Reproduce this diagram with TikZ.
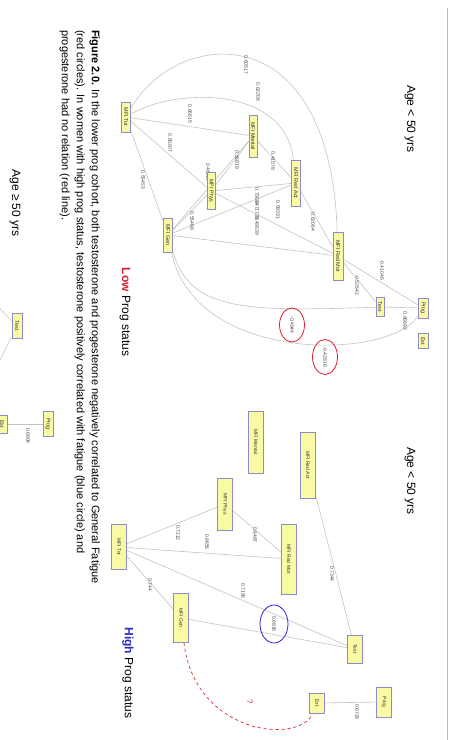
\documentclass[tikz,border=0pt]{standalone}
\usepackage{fontspec}
\setmainfont{Liberation Sans}
\usetikzlibrary{shapes.geometric,backgrounds}

\definecolor{varfill}{RGB}{250,250,165}
\definecolor{varline}{RGB}{140,140,205}
\definecolor{relgray}{RGB}{195,195,195}
\definecolor{labgray}{RGB}{70,70,70}
\definecolor{lowred}{RGB}{220,30,45}
\definecolor{highblue}{RGB}{40,40,205}
\definecolor{framegray}{RGB}{170,192,192}

\tikzset{
  var/.style={draw=varline, fill=varfill, line width=0.6pt, rotate=-90, inner sep=0.5pt,
    text=black!80, font=\fontsize{5.5}{6}\selectfont},
  uvar/.style={var, minimum height=9pt},
  hvar/.style={var, minimum height=15pt, font=\fontsize{5}{6}\selectfont},
  elab/.style={rotate=-90, inner sep=0pt, text=labgray, font=\fontsize{5}{6}\selectfont},
  rel/.style={draw=relgray, line width=0.6pt},
  circled/.style={elab, ellipse, draw, line width=0.8pt, minimum width=34pt, minimum height=25pt},
  headtxt/.style={rotate=-90, inner sep=0pt, font=\fontsize{12}{14}\selectfont},
}

\begin{document}
\begin{tikzpicture}[x=1pt,y=-1pt]
  \useasboundingbox (0,0) rectangle (450,740);

  % page frame on the right
  \draw[framegray, line width=1pt] (447,8) -- (447,740);

  % caption
  \node[rotate=-90, anchor=north west, inner sep=0pt, align=left,
        font=\fontsize{11}{15}\selectfont] (cap) at (100,30)
    {\textbf{Figure 2.0.} In the lower prog cohort, both testosterone and progesterone negatively correlated to General Fatigue\\
     (red circles). In women with high prog status, testosterone positively correlated with fatigue (blue circle) and\\
     progesterone had no relation (red line).};

  % headings
  \node[headtxt] (ageA) at (410,119) {Age < 50 yrs};
  \node[headtxt] (ageB) at (410,481) {Age < 50 yrs};
  \node[headtxt] (ageC) at (15,203)  {Age ≥ 50 yrs};
  \node[headtxt] (low)  at (125,312) {\textcolor{lowred}{\textbf{Low}} Prog status};
  \node[headtxt] (high) at (128,673) {\textcolor{highblue}{\textbf{High}} Prog status};

  % Low prog, age < 50
  \node[uvar, minimum width=30pt] (lTot) at (126,117) {MFI Tot};
  \node[uvar, minimum width=42pt, minimum height=8pt] (lMen) at (253,136) {MFI Mental};
  \node[uvar, minimum width=37pt, minimum height=8pt] (lPhy) at (211,191) {MFI Phys};
  \node[uvar, minimum width=46pt] (lAct) at (296,183) {MFI Red Act};
  \node[uvar, minimum width=34pt] (lGen) at (168,235) {MFI Gen};
  \node[uvar, minimum width=48pt, minimum height=10pt] (lMot) at (338,256) {MFI Red Mot};
  \node[uvar, minimum width=19pt, minimum height=8pt] (lTest) at (380,307) {Test};
  \node[uvar, minimum width=20pt, minimum height=10pt] (lProg) at (423,308) {Prog};
  \node[uvar, minimum width=15pt, minimum height=10pt] (lEst) at (423,341) {Est};

  % High prog, age < 50
  \node[hvar, minimum width=62pt] (hMen)  at (256,442) {MFI Mental};
  \node[hvar, minimum width=66pt] (hAct)  at (308,465) {MFI Red Act};
  \node[hvar, minimum width=52pt] (hPhy)  at (225,504) {MFI Phys};
  \node[hvar, minimum width=70pt] (hMot)  at (289,559) {MFI Red Mot};
  \node[hvar, minimum width=45pt] (hTot)  at (119,547) {MFI Tot};
  \node[hvar, minimum width=49pt] (hGen)  at (181,618) {MFI Gen};
  \node[hvar, minimum width=28pt] (hTest) at (355,649) {Test};
  \node[hvar, minimum width=20pt] (hEst)  at (317,703) {Est};
  \node[hvar, minimum width=30pt] (hProg) at (384,702) {Prog};

  % age >= 50 (cut off at the page edge)
  \node[uvar, minimum width=25pt, minimum height=10pt] (oTest) at (17,326) {Test};
  \node[uvar, minimum width=25pt, minimum height=10pt] (oProg) at (48,424) {Prog};
  \node[uvar, minimum width=18pt, minimum height=10pt] (oEst)  at (2,424)  {Est};
  \coordinate (oW1) at (-1,308);
  \coordinate (oW2) at (-1,362);

  \begin{scope}[on background layer]
    % low prog edges
    \draw[rel] (lTot) .. controls (175,30) and (330,10) .. (lMot);
    \draw[rel] (lTot) .. controls (175,88) and (285,85) .. (lAct);
    \draw[rel] (lTot) -- (lMen);
    \draw[rel] (lTot) -- (lPhy);
    \draw[rel] (lTot) -- (lGen);
    \draw[rel] (lGen) -- (lPhy);
    \draw[rel] (lGen) -- (lMen);
    \draw[rel] (lMen) -- (lPhy);
    \draw[rel] (lMen) -- (lAct);
    \draw[rel] (lPhy) -- (lAct);
    \draw[rel] (lGen) -- (lAct);
    \draw[rel] (lGen) -- (lMot);
    \draw[rel] (lPhy) -- (lMot);
    \draw[rel] (lAct) -- (lMot);
    \draw[rel] (lMot) -- (lTest);
    \draw[rel] (lMot) -- (lProg);
    \draw[rel] (lTest) -- (lProg);
    \draw[rel] (lGen) .. controls (190,310) and (240,312) .. (lTest);
    \draw[rel] (lGen) .. controls (195,365) and (390,360) .. (lProg);

    \node[elab] (rTotMot) at (246,65)  {0.60517};
    \node[elab] (rTotAct) at (258,92)  {0.62208};
    \node[elab] (rTotMen) at (190,114) {0.66615};
    \node[elab] (rTotPhy) at (170,143) {0.65307};
    \node[elab] (rTotGen) at (143,180) {0.55453};
    \node[elab] (rGenPhy) at (192,221) {0.55468};
    \node[elab] (rGenMen) at (208,172) {0.46119};
    \node[elab] (rMenPhy) at (237,160) {0.56819};
    \node[elab] (rMenAct) at (273,161) {0.41578};
    \node[elab] (rPhyAct) at (257,197) {0.73684};
    \node[elab] (rGenAct) at (257,211) {0.71728};
    \node[elab] (rGenMot) at (257,226) {0.43639};
    \node[elab] (rPhyMot) at (278,210) {0.59331};
    \node[elab] (rActMot) at (313,222) {0.62064};
    \node[elab] (rMotTst) at (357,285) {-0.52642};
    \node[elab] (rMotPrg) at (382,270) {-0.41046};
    \node[elab] (rTstPrg) at (405,321) {0.86692};
    \node[circled, draw=lowred] (rGenTst) at (292,325) {-0.4944};
    \node[circled, draw=lowred, minimum width=35pt] (rGenPrg) at (325,357) {-0.42816};

    % high prog edges
    \draw[rel] (hTot) -- (hPhy);
    \draw[rel] (hTot) -- (hMot);
    \draw[rel] (hPhy) -- (hMot);
    \draw[rel] (hTot) -- (hGen);
    \draw[rel] (hTot) -- (hTest);
    \draw[rel] (hGen) -- (hTest);
    \draw[rel] (hAct) -- (hTest);
    \draw[rel] (hEst) -- (hProg);
    \draw[lowred, dashed, line width=0.7pt] (hGen) .. controls (195,735) and (300,745) .. (hEst);

    \node[elab] (sTotPhy) at (178,533) {0.7212};
    \node[elab] (sTotMot) at (207,542) {0.8656};
    \node[elab] (sPhyMot) at (255,535) {0.6487};
    \node[elab] (sTotGen) at (150,585) {0.744};
    \node[elab] (sTotTst) at (243,591) {0.7195};
    \node[elab] (sActTst) at (332,574) {0.7344};
    \node[elab] (sEstPrg) at (357,712) {0.6729};
    \node[circled, draw=highblue, minimum width=38pt, minimum height=28pt] (sGenTst) at (274,624) {0.6836};
    \node[rotate=-90, text=lowred, font=\fontsize{8}{8}\selectfont] (qm) at (250,702) {?};

    % age >= 50 edges
    \draw[rel] (oTest) -- (oW1);
    \draw[rel] (oTest) -- (oW2);
    \draw[rel] (oEst) -- (oProg);
    \node[elab] (tEstPrg) at (28,436) {0.6808};
  \end{scope}
\end{tikzpicture}
\end{document}
